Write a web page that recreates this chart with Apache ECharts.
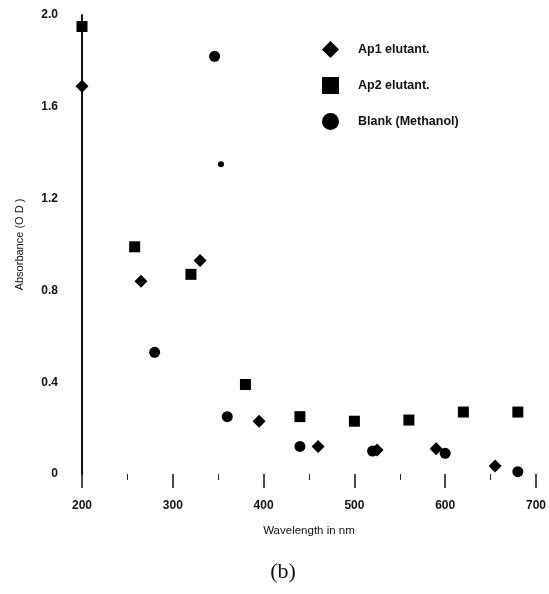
<!DOCTYPE html>
<html>
<head>
<meta charset="utf-8">
<script src="https://cdn.jsdelivr.net/npm/echarts@6/dist/echarts.min.js"></script>
<style>
  html, body { margin: 0; padding: 0; background: #fff; }
  #chart { width: 549px; height: 594px; }
</style>
</head>
<body>
<div id="chart"></div>
<script>
// UV absorbance of the eluted fractions against the methanol blank
const ap1Wavelength = [200, 265, 330, 395, 460, 525, 590, 655];
const ap1Absorbance = [1.69, 0.84, 0.93, 0.23, 0.12, 0.105, 0.11, 0.035];

const ap2Wavelength = [200, 258, 320, 380, 440, 500, 560, 620, 680];
const ap2Absorbance = [1.95, 0.99, 0.87, 0.39, 0.25, 0.23, 0.235, 0.27, 0.27];

const blankWavelength = [280, 346, 353, 360, 440, 520, 600, 680];
const blankAbsorbance = [0.53, 1.82, 1.35, 0.25, 0.12, 0.10, 0.09, 0.01];

const seriesNames = ['Ap1 elutant.', 'Ap2 elutant.', 'Blank (Methanol)'];
const xTicks = [200, 300, 400, 500, 600, 700];
const yTicks = [0, 0.4, 0.8, 1.2, 1.6, 2.0];

const pairs = (xs, ys) => xs.map((x, i) => [x, ys[i]]);

const chart = echarts.init(document.getElementById('chart'));
const labelFont = { fontFamily: 'Liberation Sans', fontWeight: 'bold', fontSize: 12, color: '#111' };
const markStyle = { color: '#000', opacity: 1 };

chart.setOption({
  animation: false,
  backgroundColor: '#fff',
  title: {
    text: '(b)',
    left: 278, top: 556, textAlign: 'center',
    textStyle: { fontFamily: 'Liberation Serif', fontSize: 22, fontWeight: 'normal', color: '#111' }
  },
  legend: {
    orient: 'vertical',
    left: 317, top: 36,
    itemWidth: 17, itemHeight: 17, itemGap: 19,
    itemStyle: { color: '#000', opacity: 1 },
    textStyle: Object.assign({}, labelFont, { fontSize: 12.5, padding: [7, 0, 0, 14] }),
    data: [
      { name: seriesNames[0], icon: 'diamond' },
      { name: seriesNames[1], icon: 'rect' },
      { name: seriesNames[2], icon: 'circle' }
    ]
  },
  grid: { left: 82, right: 9, top: 15, bottom: 120, containLabel: false },
  xAxis: {
    type: 'value',
    min: 200, max: 700, interval: 100,
    name: 'Wavelength in nm',
    nameLocation: 'middle', nameGap: 51,
    nameTextStyle: { fontFamily: 'Liberation Sans', fontSize: 11.5, color: '#111' },
    axisLine: { show: false },
    axisTick: { show: true, inside: false, length: 14, lineStyle: { color: '#111', width: 1.5 } },
    minorTick: { show: true, splitNumber: 2, length: 6, lineStyle: { color: '#222', width: 1 } },
    axisLabel: Object.assign({ margin: 26, formatter: v => String(v) }, labelFont),
    splitLine: { show: false }
  },
  yAxis: {
    type: 'value',
    min: 0, max: 2.0, interval: 0.4,
    name: 'Absorbance (O D )',
    nameLocation: 'middle', nameGap: 57,
    nameTextStyle: { fontFamily: 'Liberation Sans', fontSize: 11, color: '#111' },
    axisLine: { show: true, lineStyle: { color: '#111', width: 2 } },
    axisTick: { show: false },
    axisLabel: Object.assign({ margin: 24, formatter: v => (v === 0 ? '0' : v.toFixed(1)) }, labelFont),
    splitLine: { show: false }
  },
  series: [
    {
      name: seriesNames[0], type: 'scatter', symbol: 'diamond', symbolSize: 13,
      itemStyle: markStyle,
      data: pairs(ap1Wavelength, ap1Absorbance)
    },
    {
      name: seriesNames[1], type: 'scatter', symbol: 'rect', symbolSize: 11,
      itemStyle: markStyle,
      data: pairs(ap2Wavelength, ap2Absorbance)
    },
    {
      name: seriesNames[2], type: 'scatter', symbol: 'circle', symbolSize: 11,
      itemStyle: markStyle,
      data: pairs(blankWavelength, blankAbsorbance).map((p, i) =>
        blankWavelength[i] === 353 ? { value: p, symbolSize: 6 } : p)
    }
  ]
});
</script>
</body>
</html>
